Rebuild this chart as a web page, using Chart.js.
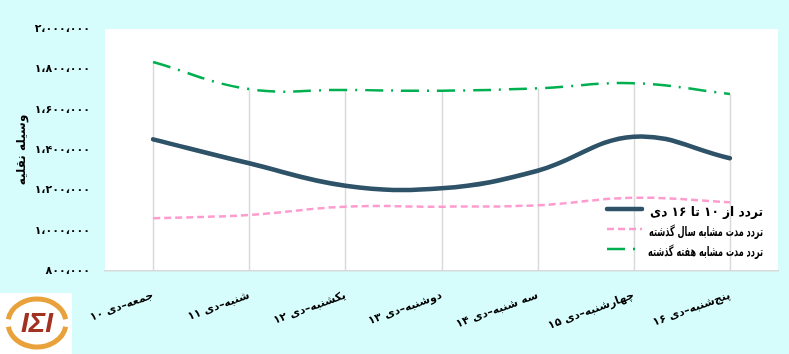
<!DOCTYPE html>
<html>
<head>
<meta charset="utf-8">
<script src="https://cdn.jsdelivr.net/npm/chart.js@4/dist/chart.umd.min.js"></script>
<style>
  html, body { margin: 0; padding: 0; background: #d7fcfc; }
</style>
</head>
<body>
<canvas id="chart" width="789" height="354"></canvas>
<script>
const days = ['جمعه–دی ۱۰', 'شنبه–دی ۱۱', 'یکشنبه–دی ۱۲', 'دوشنبه–دی ۱۳', 'سه شنبه–دی ۱۴', 'چهارشنبه–دی ۱۵', 'پنج‌شنبه–دی ۱۶']
const tripsThisWeek = [1453000, 1334000, 1223000, 1210000, 1297000, 1466000, 1359000]
const tripsLastYear = [1061000, 1078000, 1119000, 1119000, 1126000, 1163000, 1141000]
const tripsLastWeek = [1836000, 1702000, 1698000, 1694000, 1706000, 1731000, 1678000]
const seriesNames   = ['تردد از ۱۰ تا ۱۶ دی', 'تردد مدت مشابه سال گذشته', 'تردد مدت مشابه هفته گذشته']
const yMin = 800000, yMax = 2000000, yStep = 200000
const yTitle = 'وسیله نقلیه'

const FONT = '"DejaVu Sans", sans-serif'
const faDigits = '۰۱۲۳۴۵۶۷۸۹'
const toFa = s => String(s).replace(/\d/g, d => faDigits[d])

// canvas background + white plot area
const background = {
  id: 'background',
  beforeDraw(chart) {
    const { ctx, chartArea: a } = chart
    ctx.save()
    ctx.fillStyle = '#d7fcfc'
    ctx.fillRect(0, 0, chart.width, chart.height)
    ctx.fillStyle = '#ffffff'
    ctx.fillRect(a.left, a.top, a.right - a.left, a.bottom - a.top)
    ctx.restore()
  }
}

// drop lines from the highest point of each category down to the axis
const dropLines = {
  id: 'dropLines',
  beforeDatasetsDraw(chart) {
    const { ctx, chartArea: a, scales: { x, y } } = chart
    ctx.save()
    ctx.strokeStyle = '#d9d9d9'
    ctx.lineWidth = 1.5
    chart.data.labels.forEach((_, i) => {
      const top = Math.max(...chart.data.datasets.map(d => d.data[i]))
      const px = Math.round(x.getPixelForValue(i)) + 0.5
      ctx.beginPath()
      ctx.moveTo(px, y.getPixelForValue(top))
      ctx.lineTo(px, a.bottom)
      ctx.stroke()
    })
    ctx.restore()
  }
}

// legend drawn inside the plot, bottom right
const innerLegend = {
  id: 'innerLegend',
  afterDatasetsDraw(chart) {
    const { ctx, chartArea: a } = chart
    const sx0 = a.right - 171, sx1 = a.right - 136, textRight = a.right - 15
    const rows = [a.bottom - 62, a.bottom - 42, a.bottom - 22]
    const widths = [113, 114, 115]
    ctx.save()
    chart.data.datasets.forEach((ds, i) => {
      const yy = rows[i]
      ctx.beginPath()
      ctx.strokeStyle = ds.borderColor
      ctx.lineWidth = ds.borderWidth
      ctx.lineCap = ds.borderCapStyle || 'butt'
      ctx.setLineDash(ds.borderDash || [])
      ctx.moveTo(sx0, yy)
      ctx.lineTo(sx1, yy)
      ctx.stroke()
      ctx.setLineDash([])
      ctx.fillStyle = '#000'
      ctx.font = 'bold 13px ' + FONT
      ctx.textAlign = 'right'
      ctx.textBaseline = 'middle'
      ctx.direction = 'rtl'
      ctx.fillText(ds.label, textRight, yy + 4, widths[i])
    })
    ctx.restore()
  }
}

// small company logo, bottom left
const logo = {
  id: 'logo',
  afterDraw(chart) {
    const { ctx } = chart
    ctx.save()
    ctx.fillStyle = '#ffffff'
    ctx.fillRect(0, 293, 72, 61)
    ctx.strokeStyle = '#e9a23b'
    ctx.lineWidth = 5
    ctx.beginPath()
    ctx.ellipse(37, 323, 29, 24, 0, -Math.PI * 0.95, -Math.PI * 0.05)
    ctx.stroke()
    ctx.beginPath()
    ctx.ellipse(37, 323, 29, 24, 0, Math.PI * 0.05, Math.PI * 0.95)
    ctx.stroke()
    ctx.fillStyle = '#a33122'
    ctx.font = 'italic bold 28px "Liberation Sans", sans-serif'
    ctx.textAlign = 'center'
    ctx.textBaseline = 'middle'
    ctx.fillText('IΣI', 37, 324)
    ctx.restore()
  }
}

new Chart(document.getElementById('chart'), {
  type: 'line',
  data: {
    labels: days,
    datasets: [
      {
        label: seriesNames[0],
        data: tripsThisWeek,
        borderColor: '#2e5368',
        borderWidth: 4.5,
        borderCapStyle: 'round',
        tension: 0.4,
        pointRadius: 0
      },
      {
        label: seriesNames[1],
        data: tripsLastYear,
        borderColor: '#ff9ccf',
        borderWidth: 2.5,
        borderDash: [7, 4],
        tension: 0.4,
        pointRadius: 0
      },
      {
        label: seriesNames[2],
        data: tripsLastWeek,
        borderColor: '#00b050',
        borderWidth: 2.5,
        borderDash: [18, 8, 2, 8],
        tension: 0.4,
        pointRadius: 0
      }
    ]
  },
  options: {
    responsive: false,
    devicePixelRatio: 1,
    animation: false,
    layout: { padding: { top: 29, right: 11, left: 0, bottom: 0 } },
    plugins: {
      legend: { display: false },
      tooltip: { enabled: false }
    },
    scales: {
      x: {
        offset: true,
        grid: { display: false, drawTicks: false },
        border: { display: true, color: '#d9d9d9', width: 1.5 },
        ticks: {
          autoSkip: false,
          maxRotation: 20,
          minRotation: 20,
          padding: 18,
          color: '#000',
          font: { family: FONT, size: 11, weight: 'bold' }
        },
        afterFit(scale) { scale.height = 83 }
      },
      y: {
        min: yMin,
        max: yMax,
        grid: { display: false, drawTicks: false },
        border: { display: false },
        ticks: {
          stepSize: yStep,
          padding: 15,
          color: '#000',
          font: { family: FONT, size: 11, weight: 'bold' },
          callback: v => toFa(v.toLocaleString('en-US')).replace(/,/g, '،')
        },
        title: {
          display: true,
          text: yTitle,
          color: '#000',
          padding: { top: 15, bottom: 0 },
          font: { family: FONT, size: 12, weight: 'bold' }
        },
        afterFit(scale) { scale.width = 105 }
      }
    }
  },
  plugins: [background, dropLines, innerLegend, logo]
})
</script>
</body>
</html>
